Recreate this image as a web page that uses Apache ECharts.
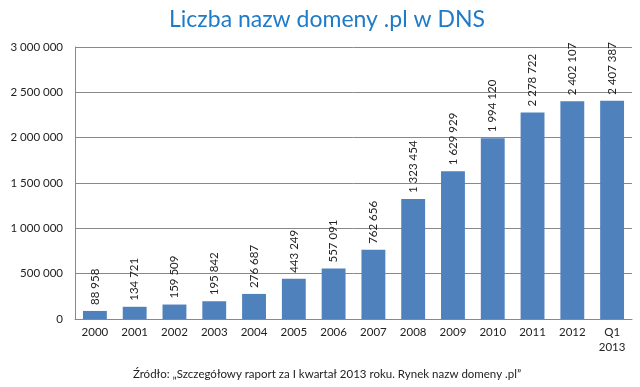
<!DOCTYPE html>
<html><head><meta charset="utf-8">
<script src="https://cdn.jsdelivr.net/npm/echarts@6/dist/echarts.min.js"></script>
<style>html,body{margin:0;padding:0;background:#fff}#c{width:640px;height:387px}</style>
</head><body><div id="c"></div>
<script>
const categories = ['2000','2001','2002','2003','2004','2005','2006','2007','2008','2009','2010','2011','2012','Q1\n2013'];
const values = [88958,134721,159509,195842,276687,443249,557091,762656,1323454,1629929,1994120,2278722,2402107,2407387];
const titleText = 'Liczba nazw domeny .pl w DNS';
const sourceText = 'Źródło: „Szczegółowy raport za I kwartał 2013 roku. Rynek nazw domeny .pl”';
const fmt = v => String(v).replace(/\B(?=(\d{3})+(?!\d))/g, ' ');
const chart = echarts.init(document.getElementById('c'));
chart.setOption({
  animation: false,
  textStyle: {fontFamily: 'Lato, Noto Sans, sans-serif'},
  title: [{
    text: titleText, left: 322, textAlign: 'center', top: 3,
    textStyle: {color: '#1F7BC8', fontSize: 23, fontWeight: 'normal', fontFamily: 'Lato, sans-serif'}
  }, {
    text: sourceText, left: 322, textAlign: 'center', top: 363,
    textStyle: {color: '#222', fontSize: 11.5, fontWeight: 'normal', fontFamily: 'Lato, sans-serif'}
  }],
  grid: {left: 75, right: 8, top: 47, bottom: 68},
  xAxis: {
    type: 'category', data: categories,
    axisLine: {lineStyle: {color: '#888'}},
    axisTick: {show: false},
    axisLabel: {color: '#222', fontSize: 11.5, lineHeight: 15, margin: 6, interval: 0}
  },
  yAxis: {
    type: 'value', min: 0, max: 3000000, interval: 500000,
    axisLine: {show: true, lineStyle: {color: '#888'}},
    axisTick: {show: false},
    splitLine: {lineStyle: {color: '#888'}},
    axisLabel: {color: '#222', fontSize: 11.5, margin: 12, formatter: fmt}
  },
  series: [{
    type: 'bar', data: values, barWidth: '60%',
    itemStyle: {color: '#4F81BD'},
    label: {
      show: true, position: 'top', rotate: 90, align: 'left', verticalAlign: 'middle',
      distance: 6, color: '#222', fontSize: 11.5, formatter: p => fmt(p.value)
    }
  }]
});
</script></body></html>
